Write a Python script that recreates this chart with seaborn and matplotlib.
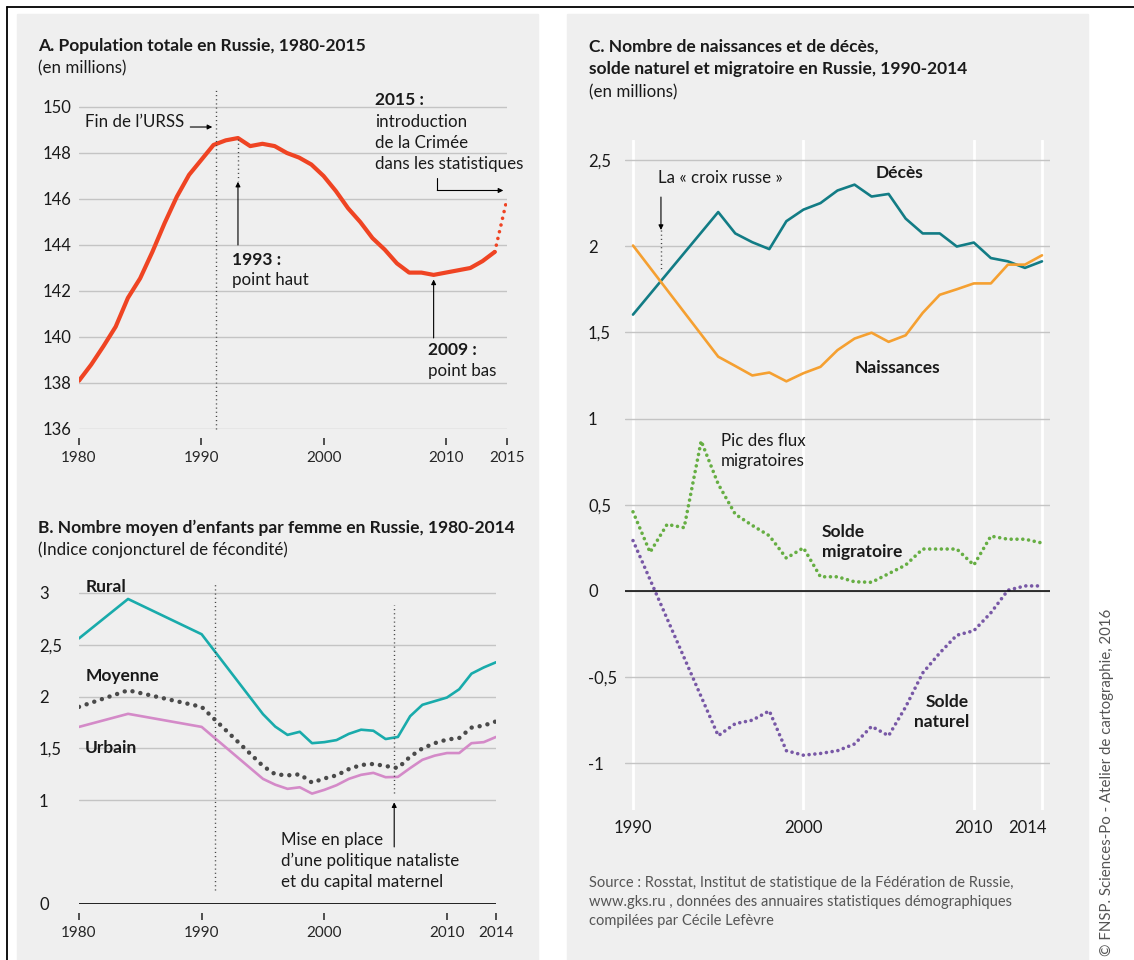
import matplotlib.pyplot as plt
import matplotlib.transforms as mtransforms
from matplotlib.patches import Rectangle
from matplotlib.lines import Line2D
import seaborn as sns
import numpy as np

# Data
pop_years = list(range(1980, 2015))
pop_values = [138.1, 138.8, 139.6, 140.45, 141.7, 142.55, 143.7, 144.95, 146.1, 147.05,
              147.7, 148.35, 148.55, 148.65, 148.3, 148.4, 148.3, 148.0, 147.8, 147.5,
              147.0, 146.35, 145.6, 145.0, 144.3, 143.8, 143.2, 142.8, 142.8, 142.7,
              142.8, 142.9, 143.0, 143.3, 143.7]
crimea_years = [2014, 2015]
crimea_values = [143.7, 146.0]

tfr_years = [1980, 1984, 1990] + list(range(1995, 2015))
tfr_rural = [2.56, 2.94, 2.60, 1.83, 1.71, 1.63, 1.66, 1.55, 1.56, 1.58, 1.64, 1.68,
             1.67, 1.59, 1.61, 1.81, 1.92, 1.955, 1.99, 2.07, 2.22, 2.28, 2.33]
tfr_mean = [1.90, 2.06, 1.90, 1.33, 1.25, 1.24, 1.25, 1.17, 1.21, 1.24, 1.30, 1.34,
            1.35, 1.33, 1.31, 1.42, 1.50, 1.55, 1.585, 1.60, 1.70, 1.72, 1.76]
tfr_urban = [1.707, 1.833, 1.707, 1.206, 1.15, 1.11, 1.125, 1.064, 1.10, 1.145, 1.206,
             1.245, 1.264, 1.222, 1.225, 1.31, 1.39, 1.43, 1.455, 1.455, 1.55, 1.56, 1.61]

vital_years = [1990] + list(range(1995, 2015))
deaths = [1.603, 2.198, 2.074, 2.023, 1.983, 2.145, 2.212, 2.25, 2.323, 2.357, 2.288,
          2.303, 2.16, 2.074, 2.074, 1.998, 2.021, 1.931, 1.912, 1.874, 1.912]
births = [2.004, 1.359, 1.305, 1.25, 1.267, 1.216, 1.263, 1.30, 1.397, 1.464, 1.498,
          1.445, 1.483, 1.613, 1.718, 1.75, 1.784, 1.784, 1.893, 1.893, 1.947]
natural = [0.292, -0.84, -0.77, -0.75, -0.696, -0.927, -0.953, -0.943, -0.927, -0.888,
           -0.786, -0.84, -0.673, -0.476, -0.36, -0.257, -0.231, -0.127, 0.004, 0.029, 0.029]
mig_years = list(range(1990, 2015))
migration = [0.459, 0.224, 0.386, 0.367, 0.87, 0.62, 0.445, 0.38, 0.32, 0.19, 0.25,
             0.082, 0.082, 0.053, 0.05, 0.10, 0.15, 0.243, 0.243, 0.243, 0.15, 0.318,
             0.30, 0.30, 0.278]

sns.set_theme(style='white')
plt.rcParams['font.family'] = ['Lato', 'DejaVu Sans']

W, H = 1134, 960
fig = plt.figure(figsize=(W / 100, H / 100), dpi=100)
fig.patch.set_facecolor('white')

BG = '#efefef'
GRID = '#c4c4c4'
TXT = '#1a1a1a'
FS = 12.2     # regular annotation text
FSB = 12.5    # bold text
FST = 12      # tick labels


def px_axes(l, t, r, b):
    return fig.add_axes([l / W, 1 - b / H, (r - l) / W, (b - t) / H])


def ftext(x, y, s, **kw):
    kw.setdefault('color', TXT)
    kw.setdefault('fontsize', FS)
    kw.setdefault('va', 'center')
    fig.text(x / W, 1 - y / H, s, **kw)


def note(ax, x, y, s, bold=False, **kw):
    kw.setdefault('va', 'center')
    ax.text(x, y, s, fontsize=FSB if bold else FS, fontweight='bold' if bold else 'normal',
            color=TXT, **kw)


# panels and frame
fig.add_artist(Rectangle((17 / W, 0), (538 - 17) / W, 1 - 14 / H, transform=fig.transFigure,
                         color=BG, zorder=-5))
fig.add_artist(Rectangle((567 / W, 0), (1088 - 567) / W, 1 - 14 / H, transform=fig.transFigure,
                         color=BG, zorder=-5))
fig.add_artist(Line2D([7 / W, 1], [1 - 7 / H, 1 - 7 / H], transform=fig.transFigure,
                      color='black', lw=1.3))
fig.add_artist(Line2D([7 / W, 7 / W], [0, 1 - 7 / H], transform=fig.transFigure,
                      color='black', lw=1.3))


def style_axes(ax, yticks, ylabels, ypad, xticks, xlabels, xticks_marks=True):
    ax.set_facecolor('none')
    for s in ax.spines.values():
        s.set_visible(False)
    ax.set_yticks(yticks)
    ax.set_yticklabels(ylabels, ha='left', fontsize=FST, color=TXT)
    ax.set_xticks(xticks)
    ax.set_xticklabels(xlabels, fontsize=FST, color=TXT)
    ax.tick_params(axis='y', length=0, pad=ypad)
    if xticks_marks:
        ax.spines['bottom'].set_position(('outward', 6.5))
        ax.tick_params(axis='x', length=5, width=1.2, color='#333333', pad=4, bottom=True)
    else:
        ax.tick_params(axis='x', length=0, pad=7)
    ax.yaxis.grid(True, color=GRID, lw=1)
    ax.set_axisbelow(True)
    ax.set_xlabel('')
    ax.set_ylabel('')


arrow = dict(arrowstyle='-|>', color='black', lw=0.8, mutation_scale=7, shrinkA=0, shrinkB=0)
dots_fine = (0, (0.8, 2.2))

# ---------- A. population ----------
axA = px_axes(79, 86, 507, 429)
sns.lineplot(x=pop_years, y=pop_values, ax=axA, color='#ef4423', lw=3, solid_capstyle='round')
sns.lineplot(x=crimea_years, y=crimea_values, ax=axA, color='#ef4423', lw=2.6,
             linestyle=(0, (0.01, 1.9)))
axA.lines[-1].set_dash_capstyle('round')
axA.set_xlim(1980, 2015)
axA.set_ylim(136, 150.913)
style_axes(axA, list(range(136, 151, 2)), [str(v) for v in range(136, 151, 2)], 25.9,
           [1980, 1990, 2000, 2010, 2015], ['1980', '1990', '2000', '2010', '2015'])

axA.plot([1991.2, 1991.2], [136, 150.78], color='#444444', lw=1, linestyle=dots_fine,
         clip_on=False)
note(axA, 1980.49, 149.35, 'Fin de l’URSS')
axA.annotate('', xy=(1990.9, 149.13), xytext=(1989.1, 149.13), arrowprops=arrow)
axA.plot([1993, 1993], [148.6, 146.8], color='#444444', lw=1, linestyle=dots_fine)
axA.annotate('', xy=(1993, 146.75), xytext=(1993, 144.0), arrowprops=arrow)
note(axA, 1992.5, 143.35, '1993 :', bold=True)
note(axA, 1992.5, 142.48, 'point haut')
axA.annotate('', xy=(2009, 142.5), xytext=(2009, 139.96), arrowprops=arrow)
note(axA, 2008.5, 139.43, '2009 :', bold=True)
note(axA, 2008.5, 138.52, 'point bas')
note(axA, 2004.2, 150.3, '2015 :', bold=True)
for yy, s in zip([149.35, 148.43, 147.52], ['introduction', 'de la Crimée', 'dans les statistiques']):
    note(axA, 2004.2, yy, s)
axA.plot([2009.3, 2009.3], [146.9, 146.37], color='black', lw=0.8)
axA.annotate('', xy=(2014.7, 146.37), xytext=(2009.3, 146.37), arrowprops=arrow)

ftext(38, 46, 'A. Population totale en Russie, 1980-2015', fontweight='bold', fontsize=FSB)
ftext(38, 68, '(en millions)')

# ---------- B. fertility ----------
axB = px_axes(79, 572, 496, 904)
sns.lineplot(x=tfr_years, y=tfr_rural, ax=axB, color='#19abab', lw=1.9)
sns.lineplot(x=tfr_years, y=tfr_urban, ax=axB, color='#d48ac8', lw=1.9)
sns.lineplot(x=tfr_years, y=tfr_mean, ax=axB, color='#4a4a4a', lw=3.2,
             linestyle=(0, (0.01, 1.8)))
axB.lines[-1].set_dash_capstyle('round')
axB.set_xlim(1980, 2014)
axB.set_ylim(0, 3.2)
style_axes(axB, [0, 1, 1.5, 2, 2.5, 3], ['0', '1', '1,5', '2', '2,5', '3'], 28.8,
           [1980, 1990, 2000, 2010, 2014], ['1980', '1990', '2000', '2010', '2014'])
axB.axhline(0, color='black', lw=1.2)
axB.plot([1991.1, 1991.1], [0.135, 3.1], color='#444444', lw=1, linestyle=dots_fine)
axB.plot([2005.7, 2005.7], [1.07, 2.88], color='#444444', lw=1, linestyle=dots_fine)
axB.annotate('', xy=(2005.7, 0.98), xytext=(2005.7, 0.55), arrowprops=arrow)
note(axB, 1980.5, 3.057, 'Rural', bold=True)
note(axB, 1980.5, 2.199, 'Moyenne', bold=True)
note(axB, 1980.5, 1.504, 'Urbain', bold=True)
for yy, s in zip([0.617, 0.415, 0.212],
                 ['Mise en place', 'd’une politique nataliste', 'et du capital maternel']):
    note(axB, 1996.47, yy, s)

ftext(38, 528, 'B. Nombre moyen d’enfants par femme en Russie, 1980-2014', fontweight='bold',
      fontsize=FSB)
ftext(38, 550, '(Indice conjoncturel de fécondité)')

# ---------- C. births, deaths, balances ----------
axC = px_axes(625, 140, 1050, 810)
axC.set_xlim(1989.53, 2014.47)
axC.set_ylim(-1.271, 2.616)
for xv in [1990, 2000, 2010, 2014]:
    axC.axvline(xv, color='white', lw=2, zorder=0.5)
sns.lineplot(x=vital_years, y=deaths, ax=axC, color='#127c85', lw=1.9)
sns.lineplot(x=vital_years, y=births, ax=axC, color='#f5a031', lw=1.9)
sns.lineplot(x=mig_years, y=migration, ax=axC, color='#66ae43', lw=2.6,
             linestyle=(0, (0.01, 1.6)))
axC.lines[-1].set_dash_capstyle('round')
sns.lineplot(x=vital_years, y=natural, ax=axC, color='#7858a6', lw=2.6,
             linestyle=(0, (0.01, 1.6)))
axC.lines[-1].set_dash_capstyle('round')
style_axes(axC, [-1, -0.5, 0, 0.5, 1, 1.5, 2, 2.5],
           ['-1', '-0,5', '0', '0,5', '1', '1,5', '2', '2,5'], 26.6,
           [1990, 2000, 2010, 2014], ['1990', '2000', '2010', '2014'], xticks_marks=False)
axC.xaxis.grid(False)
shift = mtransforms.ScaledTranslation(-15 / 100, 0, fig.dpi_scale_trans)
lastlab = axC.get_xticklabels()[-1]
lastlab.set_transform(lastlab.get_transform() + shift)
axC.axhline(0, color='black', lw=1.1)

note(axC, 2005.66, 2.426, 'Décès', bold=True, ha='center')
note(axC, 2005.54, 1.294, 'Naissances', bold=True, ha='center')
note(axC, 1991.47, 2.397, 'La « croix russe »')
axC.annotate('', xy=(1991.64, 2.094), xytext=(1991.64, 2.285), arrowprops=arrow)
axC.plot([1991.64, 1991.64], [2.094, 1.862], color='#444444', lw=1, linestyle=dots_fine)
note(axC, 1995.16, 0.871, 'Pic des flux')
note(axC, 1995.16, 0.754, 'migratoires')
note(axC, 2001.08, 0.342, 'Solde', bold=True)
note(axC, 2001.08, 0.226, 'migratoire', bold=True)
note(axC, 2009.71, -0.644, 'Solde', bold=True, ha='right')
note(axC, 2009.71, -0.76, 'naturel', bold=True, ha='right')

ftext(589, 47, 'C. Nombre de naissances et de décès,', fontweight='bold', fontsize=FSB)
ftext(589, 69, 'solde naturel et migratoire en Russie, 1990-2014', fontweight='bold', fontsize=FSB)
ftext(589, 92, '(en millions)')

src = ['Source : Rosstat, Institut de statistique de la Fédération de Russie,',
       'www.gks.ru , données des annuaires statistiques démographiques',
       'compilées par Cécile Lefèvre']
for yy, s in zip([883, 902, 921], src):
    ftext(589, yy, s, fontsize=10.5, color='#555555')

ftext(1107, 782, '© FNSP. Sciences-Po - Atelier de cartographie, 2016', fontsize=10.8,
      color='#555555', rotation=90, ha='center')

fig.savefig('out.png', dpi=100)
